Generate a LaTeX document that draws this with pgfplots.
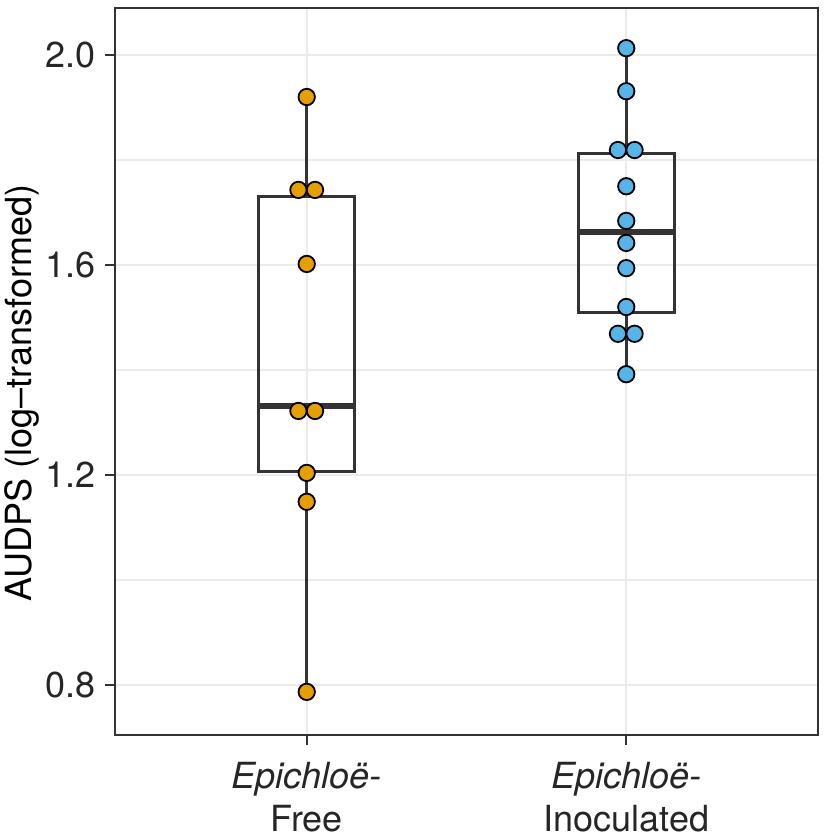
\documentclass[border=0pt]{standalone}
\usepackage{fontspec}
\setmainfont{TeX Gyre Heros}
\usepackage{pgfplots}
\pgfplotsset{compat=1.18}
\usepgfplotslibrary{statistics}
\definecolor{gridc}{HTML}{EBEBEB}
\definecolor{dark}{HTML}{333333}
\definecolor{orangeF}{HTML}{E69F00}
\definecolor{blueI}{HTML}{56B4E9}
\begin{document}
\begin{tikzpicture}
\begin{axis}[
  at={(0,0)}, anchor=south west,
  scale only axis, width=351.5pt, height=363.5pt,
  xmin=0.4, xmax=2.6, ymin=0.7048, ymax=2.0895,
  axis line style={dark, line width=0.7pt},
  xtick={1,2},
  xticklabels={{\textit{Epichloë-}\\Free},{\textit{Epichloë-}\\Inoculated}},
  ytick={0.8,1.2,1.6,2.0},
  yticklabels={0.8,1.2,1.6,2.0},
  minor ytick={1.0,1.4,1.8},
  grid=both,
  xmajorgrids=true, ymajorgrids=true, yminorgrids=true,
  major grid style={gridc, line width=1.2pt},
  minor grid style={gridc, line width=0.6pt},
  tick align=outside, tick pos=left,
  major tick length=5pt, minor tick length=0pt,
  major tick style={dark, line width=1.1pt},
  ticklabel style={font=\fontsize{18}{21.5}\selectfont, text=black!85},
  yticklabel style={anchor=east, inner sep=0pt, xshift=-4.5pt},
  xticklabel style={align=center, anchor=north, inner sep=0pt, yshift=-8.5pt},
  ylabel={AUDPS (log–transformed)},
  every axis y label/.style={at={(axis description cs:-0.1323,0.4704)}, rotate=90, anchor=center, font=\fontsize{18}{20}\selectfont},
  boxplot/draw direction=y,
  boxplot/box extend=0.3,
  boxplot/whisker extend=0,
  boxplot/every median/.style={line width=3pt},
]
\addplot[only marks, mark=*, mark size=4.1pt, mark options={fill=orangeF, draw=black, line width=0.9pt}] coordinates {
(1,1.920) (0.974,1.743) (1.026,1.743) (1,1.602) (0.974,1.322) (1.026,1.322) (1,1.204) (1,1.149) (1,0.787)
};
\addplot[only marks, mark=*, mark size=4.1pt, mark options={fill=blueI, draw=black, line width=0.9pt}] coordinates {
(2,2.013) (2,1.931) (1.974,1.819) (2.026,1.819) (2,1.750) (2,1.684) (2,1.642) (2,1.594) (2,1.520) (1.974,1.469) (2.026,1.469) (2,1.392)
};
\addplot[dark, line width=1.5pt, boxplot prepared={draw position=1,
  lower whisker=0.787, lower quartile=1.206, median=1.331, upper quartile=1.731, upper whisker=1.920}] coordinates {};
\addplot[dark, line width=1.5pt, boxplot prepared={draw position=2,
  lower whisker=1.392, lower quartile=1.510, median=1.663, upper quartile=1.813, upper whisker=2.013}] coordinates {};
\end{axis}
\pgfresetboundingbox
\path (-57.5pt,-51pt) rectangle (356pt,367.5pt);
\end{tikzpicture}
\end{document}
